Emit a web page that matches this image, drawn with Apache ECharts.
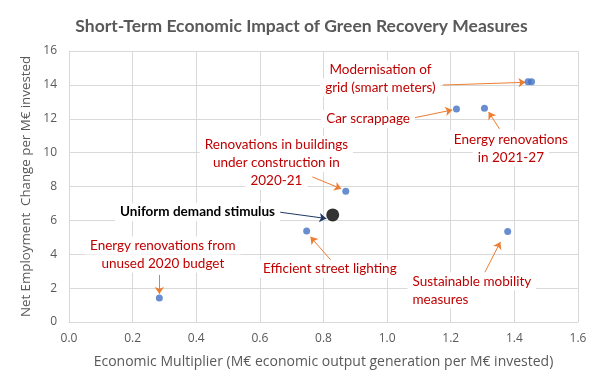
<!DOCTYPE html>
<html>
<head>
<meta charset="utf-8">
<script src="https://cdn.jsdelivr.net/npm/echarts@6/dist/echarts.min.js"></script>
<style>
html,body{margin:0;padding:0;background:#fff;}
#chart{width:603px;height:390px;}
</style>
</head>
<body>
<div id="chart"></div>
<script>
// ---- Data ----
const measureNames = [
  'Modernisation of grid (smart meters) A',
  'Modernisation of grid (smart meters) B',
  'Car scrappage',
  'Energy renovations in 2021-27',
  'Renovations in buildings under construction in 2020-21',
  'Efficient street lighting',
  'Energy renovations from unused 2020 budget',
  'Sustainable mobility measures'
];
const multiplier = [1.443, 1.454, 1.218, 1.306, 0.870, 0.747, 0.284, 1.379];
const employment = [14.19, 14.19, 12.58, 12.62, 7.72, 5.38, 1.41, 5.34];

const uniformName = ['Uniform demand stimulus'];
const uniformMultiplier = [0.829];
const uniformEmployment = [6.32];

const xTicks = ['0.0','0.2','0.4','0.6','0.8','1.0','1.2','1.4','1.6'];
const yTicks = [0,2,4,6,8,10,12,14,16];

const titleText = 'Short-Term Economic Impact of Green Recovery Measures';
const xName = 'Economic Multiplier (M\u20ac economic output generation per M\u20ac invested)';
const yName = 'Net Employment  Change per M\u20ac invested';

// annotation texts (one entry per line)
const annoTexts = [
  ['Modernisation of', 'grid (smart meters)'],
  ['Car scrappage'],
  ['Energy renovations', 'in 2021-27'],
  ['Renovations in buildings', 'under construction in', '2020-21'],
  ['Uniform demand stimulus'],
  ['Energy renovations from', 'unused 2020 budget'],
  ['Efficient street lighting'],
  ['Sustainable mobility', 'measures']
];

// ---- Layout of annotations (positions in data space) ----
const annoLayout = [
  {at:[0.979,14.37], align:'center', color:'#C00000', from:[1.175,13.99], to:[1.435,14.15], arrow:'#ED7D31'},
  {at:[0.940,11.99], align:'center', color:'#C00000', from:[1.083,12.05], to:[1.205,12.52], arrow:'#ED7D31'},
  {at:[1.389,10.25], align:'center', color:'#C00000', from:[1.353,11.40], to:[1.319,12.40], arrow:'#ED7D31'},
  {at:[0.652,9.39],  align:'center', color:'#C00000', from:[0.765,8.57],  to:[0.856,7.86],  arrow:'#ED7D31'},
  {at:[0.404,6.50],  align:'center', color:'#000000', bold:true, from:[0.664,6.48], to:[0.809,6.11], arrow:'#1F3864'},
  {at:[0.295,3.99],  align:'center', color:'#C00000', from:[0.284,2.78],  to:[0.284,1.66],  arrow:'#ED7D31'},
  {at:[0.820,3.14],  align:'center', color:'#C00000', from:[0.828,3.55],  to:[0.759,5.03],  arrow:'#ED7D31'},
  {at:[1.064,1.87],  align:'left',   color:'#C00000', from:[1.303,2.78],  to:[1.356,4.73],  arrow:'#ED7D31'}
];
const LINE_H = 18;

const FONT = 'Lato, "Open Sans", sans-serif';
const AXFONT = '"Open Sans", Lato, sans-serif';

const points = multiplier.map((x,i)=>[x, employment[i], measureNames[i]]);
const uniformPts = uniformMultiplier.map((x,i)=>[x, uniformEmployment[i], uniformName[i]]);

const markPoints = [];
annoTexts.forEach((lines,i)=>{
  const L = annoLayout[i];
  const n = lines.length;
  lines.forEach((t,k)=>{
    markPoints.push({
      coord: L.at,
      symbol: 'rect',
      symbolSize: 0,
      label: {
        show: true,
        position: 'inside',
        offset: [0, (k - (n-1)/2) * LINE_H],
        formatter: t,
        align: L.align,
        verticalAlign: 'middle',
        color: L.color,
        fontFamily: FONT,
        fontSize: 13.5,
        fontWeight: L.bold ? 'bold' : 'normal',
        lineHeight: 16,
        backgroundColor: '#ffffff',
        padding: [1, 5]
      }
    });
  });
});

const markLines = annoLayout.map(L=>[
  {coord: L.from, lineStyle:{color:L.arrow, width:1, type:'solid'}},
  {coord: L.to}
]);

const chart = echarts.init(document.getElementById('chart'), null, {renderer:'canvas'});
chart.setOption({
  animation: false,
  backgroundColor: '#ffffff',
  title: {
    text: titleText,
    left: 'center',
    top: 12,
    textStyle: {fontFamily: FONT, fontSize: 17.5, fontWeight: 'bold', color: '#595959'}
  },
  grid: {left: 69, right: 25, top: 51, bottom: 68},
  xAxis: {
    type: 'value',
    min: 0, max: 1.6, interval: 0.2,
    name: xName,
    nameLocation: 'middle',
    nameGap: 33,
    nameTextStyle: {fontFamily: AXFONT, fontSize: 14, color: '#595959'},
    axisLine: {show: true, lineStyle: {color: '#D9D9D9'}},
    axisTick: {show: false},
    axisLabel: {fontFamily: AXFONT, fontSize: 12, color: '#595959', margin: 11,
      formatter: v => xTicks[Math.round(v/0.2)]},
    splitLine: {show: true, lineStyle: {color: '#D9D9D9'}}
  },
  yAxis: {
    type: 'value',
    min: 0, max: 16, interval: 2,
    name: yName,
    nameLocation: 'middle',
    nameGap: 32,
    nameTextStyle: {fontFamily: AXFONT, fontSize: 13.3, color: '#595959', padding: [0, 0, 0, 0]},
    axisLine: {show: true, lineStyle: {color: '#D9D9D9'}},
    axisTick: {show: false},
    axisLabel: {fontFamily: AXFONT, fontSize: 12, color: '#595959', margin: 12,
      formatter: v => String(yTicks[Math.round(v/2)])},
    splitLine: {show: true, lineStyle: {color: '#D9D9D9'}}
  },
  series: [
    {
      type: 'scatter',
      name: 'annotation labels',
      data: [],
      z: 3,
      silent: true,
      markPoint: {data: markPoints, silent: true, animation: false}
    },
    {
      type: 'scatter',
      name: 'annotation arrows',
      data: [],
      z: 4,
      silent: true,
      markLine: {data: markLines, symbol: ['none','arrow'], symbolSize: [7, 7], silent: true, animation: false,
        label: {show: false}}
    },
    {
      type: 'scatter',
      name: 'Green recovery measures',
      data: points,
      symbolSize: 7,
      itemStyle: {color: '#4472C4'},
      z: 5
    },
    {
      type: 'scatter',
      name: 'Uniform demand stimulus',
      data: uniformPts,
      symbolSize: 13,
      itemStyle: {color: '#000000'},
      z: 5
    }
  ]
});
</script>
</body>
</html>
